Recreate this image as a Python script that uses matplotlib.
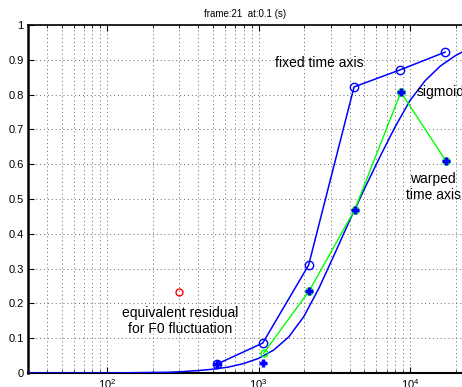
import numpy as np
import matplotlib
matplotlib.use("Agg")
import matplotlib.pyplot as plt
from matplotlib.ticker import LogLocator, NullFormatter

plt.rcParams['font.family'] = ['Liberation Sans', 'DejaVu Sans']
plt.rcParams['mathtext.fontset'] = 'custom'
plt.rcParams['mathtext.rm'] = 'Liberation Sans'
plt.rcParams['mathtext.it'] = 'Liberation Sans'

# fixed time axis (open circles)
fixed_f = [534, 1065, 2140, 4270, 8590, 17060]
fixed_y = [0.026, 0.086, 0.31, 0.822, 0.871, 0.922]

# warped time axis (green line, circles)
warped_f = [1080, 2160, 4300, 8700, 17300]
warped_y = [0.057, 0.236, 0.468, 0.807, 0.609]

# plus markers
plus_f = [534, 1065, 2160, 4300, 8700, 17300]
plus_y = [0.026, 0.029, 0.236, 0.468, 0.807, 0.609]

# sigmoid curve
sig_f = [30, 100, 158, 251, 316, 398, 501, 631, 794, 1000, 1259, 1585, 1995,
         2512, 3162, 3981, 5012, 6310, 7943, 10000, 12589, 15849, 19953, 22050]
sig_y = [0.0, 0.0, 0.001, 0.002, 0.004, 0.007, 0.011, 0.017, 0.027, 0.042,
         0.066, 0.104, 0.163, 0.245, 0.34, 0.437, 0.53, 0.62, 0.706, 0.783,
         0.840, 0.882, 0.912, 0.922]

# equivalent residual point
res_f = [300]
res_y = [0.233]

fig = plt.figure(figsize=(4.62, 3.87), dpi=100)
ax = fig.add_axes([28/462, 14/387, 434/462, 348/387])

ax.plot(sig_f, sig_y, color='#0000ff', lw=1.1, zorder=3)
ax.plot(fixed_f, fixed_y, color='#0000ff', lw=1.1, marker='o', ms=6,
        mfc='none', mec='#0000ff', mew=1, zorder=4)
ax.plot(warped_f, warped_y, color='#00ff00', lw=1, marker='o', ms=5,
        mfc='none', mec='#00ff00', mew=1, zorder=4)
ax.plot(plus_f, plus_y, ls='none', marker='+', ms=6, mew=2.5,
        color='#0000ff', zorder=5)
ax.plot(res_f, res_y, ls='none', marker='o', ms=5, mfc='none',
        mec='red', mew=1, zorder=5)

ax.set_xscale('log')
ax.set_xlim(30, 22050)
ax.set_ylim(0, 1)
ax.set_yticks(np.arange(0, 1.01, 0.1))
ax.set_yticklabels(['0', '0.1', '0.2', '0.3', '0.4', '0.5', '0.6', '0.7',
                    '0.8', '0.9', '1'])
ax.xaxis.set_major_locator(LogLocator(base=10, numticks=10))
ax.xaxis.set_minor_locator(LogLocator(base=10, subs=np.arange(2, 10), numticks=20))
ax.xaxis.set_minor_formatter(NullFormatter())

grid_style = dict(ls=(0, (1, 3)), color='0.4', lw=0.7)
ax.grid(True, which='major', axis='both', **grid_style)
ax.grid(True, which='minor', axis='x', **grid_style)

ax.tick_params(which='both', direction='in', top=True, right=False,
               labelsize=8, pad=3)
ax.tick_params(which='major', length=4)
ax.tick_params(which='minor', length=2)
ax.spines['left'].set_linewidth(1.8)
ax.spines['bottom'].set_linewidth(1.5)
ax.spines['top'].set_linewidth(1.2)
ax.spines['right'].set_visible(False)

ax.set_title('frame:21  at:0.1 (s)', fontsize=7, pad=6)

ax.text(1276, 0.891, 'fixed time axis', fontsize=10, ha='left', va='center')
ax.text(11100, 0.807, 'sigmoid', fontsize=10, ha='left', va='center')
ax.text(14200, 0.534, 'warped\ntime axis', fontsize=10, ha='center',
        va='center', multialignment='center')
ax.text(302, 0.149, 'equivalent residual\nfor F0 fluctuation', fontsize=10,
        ha='center', va='center', multialignment='center')

fig.savefig('out.png', dpi=100)
